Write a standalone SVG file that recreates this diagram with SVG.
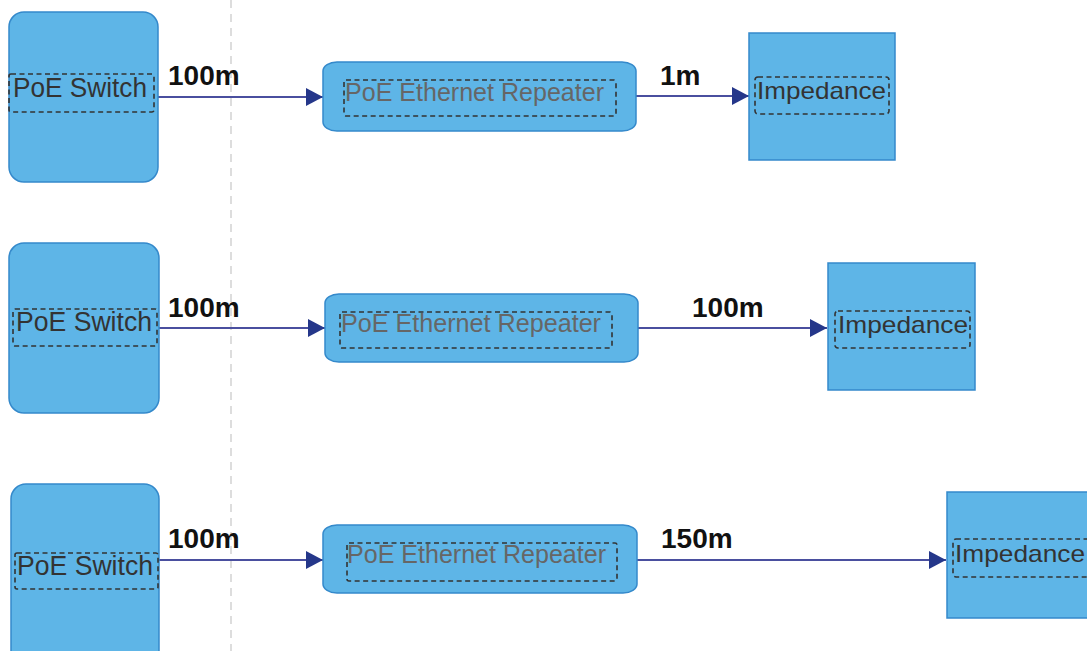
<svg xmlns="http://www.w3.org/2000/svg" width="1087" height="651" viewBox="0 0 1087 651">
<defs>
<style>
.node{fill:#5EB5E7;stroke:#3489CB;stroke-width:1.5}
.dash{fill:none;stroke:#333;stroke-width:1.6;stroke-dasharray:5 3.5}
.t{font-family:"Liberation Sans",Arial,sans-serif;font-size:27px;fill:#333}
.tr{font-family:"Liberation Sans",Arial,sans-serif;font-size:25px;fill:#666}
.ti{font-family:"Liberation Sans",Arial,sans-serif;font-size:24px;fill:#333}
.lbl{font-family:"Liberation Sans",Arial,sans-serif;font-size:28px;font-weight:bold;fill:#111}
.edge{stroke:#4A4F9F;stroke-width:2;fill:none;marker-end:url(#arr)}
</style>
<marker id="arr" viewBox="0 0 17 18" refX="17" refY="9" markerWidth="17" markerHeight="18" markerUnits="userSpaceOnUse" orient="auto">
<path d="M0,0 L17,9 L0,18 Z" fill="#25378A"/>
</marker>
</defs>
<rect width="1087" height="651" fill="#fff"/>
<line x1="231" y1="0" x2="231" y2="651" stroke="#d2d2d2" stroke-width="1.5" stroke-dasharray="8 6"/>

<g id="connectors">
<line class="edge" x1="158" y1="97" x2="323" y2="97"/>
<line class="edge" x1="636" y1="96" x2="749" y2="96"/>
<line class="edge" x1="159" y1="328" x2="325" y2="328"/>
<line class="edge" x1="638" y1="328" x2="827" y2="328"/>
<line class="edge" x1="159" y1="560" x2="323" y2="560"/>
<line class="edge" x1="637" y1="560" x2="946" y2="560"/>
<text class="lbl" x="168" y="85">100m</text>
<text class="lbl" x="660" y="85">1m</text>
<text class="lbl" x="168" y="317">100m</text>
<text class="lbl" x="692" y="317">100m</text>
<text class="lbl" x="168" y="548">100m</text>
<text class="lbl" x="661" y="548">150m</text>
</g>

<g id="switch1">
<rect class="node" x="9" y="12" width="149" height="170" rx="15"/>
<rect class="dash" x="9" y="74" width="145" height="38" rx="2"/>
<text class="t" x="13" y="97" textLength="134" lengthAdjust="spacingAndGlyphs">PoE Switch</text>
</g>
<g id="repeater1">
<rect class="node" x="323" y="62" width="313" height="69" rx="14" ry="9"/>
<rect class="dash" x="344" y="80" width="272" height="36" rx="2"/>
<text class="tr" x="345" y="101" textLength="259" lengthAdjust="spacingAndGlyphs">PoE Ethernet Repeater</text>
</g>
<g id="impedance1">
<rect class="node" x="749" y="33" width="146" height="127"/>
<rect class="dash" x="755" y="77" width="134" height="37" rx="3"/>
<text class="ti" x="757" y="99" textLength="129" lengthAdjust="spacingAndGlyphs">Impedance</text>
</g>

<g id="switch2">
<rect class="node" x="9" y="243" width="150" height="170" rx="15"/>
<rect class="dash" x="13" y="309" width="144" height="37" rx="2"/>
<text class="t" x="16" y="331" textLength="136" lengthAdjust="spacingAndGlyphs">PoE Switch</text>
</g>
<g id="repeater2">
<rect class="node" x="325" y="294" width="313" height="68" rx="14" ry="9"/>
<rect class="dash" x="340" y="312" width="272" height="36" rx="2"/>
<text class="tr" x="341" y="332" textLength="260" lengthAdjust="spacingAndGlyphs">PoE Ethernet Repeater</text>
</g>
<g id="impedance2">
<rect class="node" x="828" y="263" width="147" height="127"/>
<rect class="dash" x="835" y="311" width="135" height="37" rx="3"/>
<text class="ti" x="838" y="333" textLength="130" lengthAdjust="spacingAndGlyphs">Impedance</text>
</g>

<g id="switch3">
<rect class="node" x="11" y="484" width="148" height="185" rx="15"/>
<rect class="dash" x="15" y="553" width="143" height="36" rx="2"/>
<text class="t" x="17" y="575" textLength="136" lengthAdjust="spacingAndGlyphs">PoE Switch</text>
</g>
<g id="repeater3">
<rect class="node" x="323" y="525" width="314" height="68" rx="14" ry="9"/>
<rect class="dash" x="347" y="543" width="270" height="38" rx="2"/>
<text class="tr" x="347" y="563" textLength="259" lengthAdjust="spacingAndGlyphs">PoE Ethernet Repeater</text>
</g>
<g id="impedance3">
<rect class="node" x="947" y="492" width="150" height="126"/>
<rect class="dash" x="953" y="539" width="140" height="38" rx="3"/>
<text class="ti" x="955" y="562" textLength="130" lengthAdjust="spacingAndGlyphs">Impedance</text>
</g>
</svg>
